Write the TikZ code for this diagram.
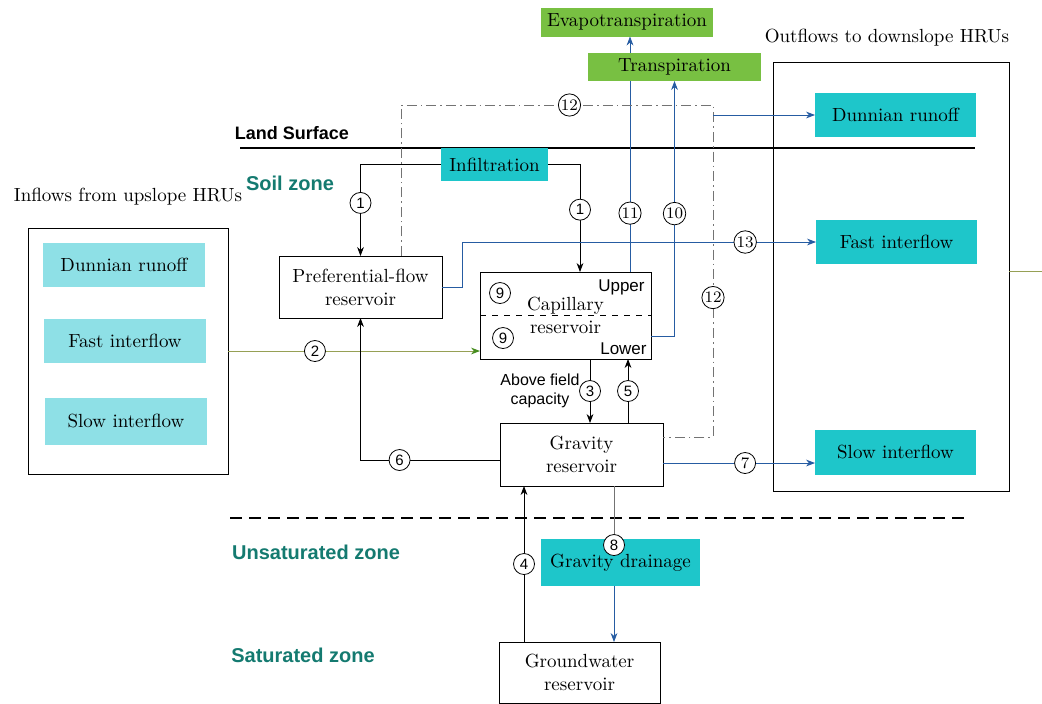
\documentclass[tikz,border=0pt]{standalone}
\usepackage{fontspec}
\setsansfont{Liberation Sans}
\usetikzlibrary{arrows.meta, calc, positioning}
\definecolor{mycyan1}{RGB}{30, 198, 202}
\definecolor{mylightcyan1}{RGB}{142, 224, 230}
\definecolor{mygreen1}{RGB}{120, 192, 66}
\definecolor{myteal1}{RGB}{20, 122, 112}
\definecolor{mydarkblue1}{RGB}{38, 92, 162}
\definecolor{myolive1}{RGB}{150, 160, 85}
\definecolor{mydarkgreen1}{RGB}{70, 140, 30}
\definecolor{mygrey1}{RGB}{115, 115, 115}

\begin{document}
\begin{tikzpicture}[x=0.5pt, y=-0.5pt,
  serif/.style={font=\fontsize{9.5}{11.5}\selectfont},
  reservoir/.style={serif, draw=black, fill=white, align=center, inner sep=0, outer sep=0},
  flowbox/.style={serif, fill=mycyan1, text centered, inner sep=0, outer sep=0},
  hrubox/.style={serif, fill=mylightcyan1, text centered, minimum width=81, minimum height=22, inner sep=0},
  etbox/.style={serif, fill=mygreen1, text centered, inner sep=0, outer sep=0},
  zone/.style={font=\sffamily\bfseries\fontsize{10}{12}\selectfont, text=myteal1},
  num/.style={circle, solid, draw=black, text=black, fill=white, inner sep=0.4pt, minimum size=10.5, font=\sffamily\fontsize{7.5}{8}\selectfont},
  numr/.style={num, font=\fontsize{8}{8}\selectfont},
  flow/.style={-{Stealth[length=4.5pt, width=3.4pt]}},
  blueflow/.style={flow, draw=mydarkblue1},
]
\useasboundingbox (0,0) rectangle (1042,703);

% --- Inflows from upslope HRUs ---
\node at (128,351) [draw=black, minimum width=100, minimum height=123, inner sep=0, outer sep=0] (inflows) {};
\node at (128,197) [serif] (inflowstitle) {Inflows from upslope HRUs};
\node at (124,265) [hrubox] (dunL) {Dunnian runoff};
\node at (125,341) [hrubox] (fastL) {Fast interflow};
\node at (126,421) [hrubox, minimum height=23.5] (slowL) {Slow interflow};

% --- Outflows to downslope HRUs ---
\node at (891,276.5) [draw=black, minimum width=118, minimum height=214.5, inner sep=0, outer sep=0] (outflows) {};
\node at (887,38) [serif] (outflowstitle) {Outflows to downslope HRUs};
\node at (895.5,115) [flowbox, minimum width=80.5, minimum height=22] (dunR) {Dunnian runoff};
\node at (896.5,242) [flowbox, minimum width=80.5, minimum height=22] (fastR) {Fast interflow};
\node at (895.5,452) [flowbox, minimum width=80.5, minimum height=22.5] (slowR) {Slow interflow};

% --- Zones ---
\coordinate (landL) at (240,148);
\coordinate (landR) at (975,148);
\draw[line width=1pt] (landL) -- (landR);
\node at (292,133) [font=\sffamily\bfseries\fontsize{9}{11}\selectfont] (land) {Land Surface};
\node at (290,183) [zone] (soil) {Soil zone};
\coordinate (unsatL) at (230,518);
\coordinate (unsatR) at (968,518);
\draw[line width=0.9pt, dash pattern=on 6pt off 3.5pt] (unsatL) -- (unsatR);
\node at (316,552) [zone] (unsat) {Unsaturated zone};
\node at (303,655) [zone] (sat) {Saturated zone};

% --- Reservoirs ---
\node at (627,22) [etbox, minimum width=86, minimum height=14.5] (evapo) {Evapotranspiration};
\node at (494.5,164.5) [flowbox, minimum width=53.5, minimum height=16.5] (infil) {Infiltration};
\node at (360.5,287) [reservoir, minimum width=81.5, minimum height=31] (pref) {Preferential-flow\\reservoir};
\node at (565.5,315.5) [reservoir, minimum width=85.5, minimum height=43.5] (cap) {Capillary\\reservoir};
\node at (581.5,454.5) [reservoir, minimum width=81.5, minimum height=31.5] (grav) {Gravity\\reservoir};
\node at (620.5,562.5) [flowbox, minimum width=79.5, minimum height=23.5] (drain) {Gravity drainage};
\node at (579.5,672.5) [reservoir, minimum width=80.5, minimum height=30.5] (gw) {Groundwater\\reservoir};

% capillary upper / lower
\draw[dashed] (cap.west) -- (cap.east);
\node at (cap.north east) [anchor=north east, inner xsep=3pt, inner ysep=3.5pt, font=\sffamily\fontsize{8.5}{10}\selectfont] (upper) {Upper};
\node at (cap.south east) [anchor=south east, inner xsep=2pt, inner ysep=2pt, font=\sffamily\fontsize{8.5}{10}\selectfont] (lower) {Lower};
\node at (500,293) [num] (upnine) {9};
\node at (503,338) [num] (lownine) {9};

% --- Arrows ---
\draw[flow] (infil.west) -| node[num, pos=0.71] {1} (pref.north);
\draw[flow] (infil.east) -| node[num, pos=0.71] {1} ([xshift=7.25pt]cap.north);
\draw[draw=myolive1, -{Stealth[length=4.5pt, width=3.4pt, color=mydarkgreen1]}] (inflows.east) -- node[num, pos=0.345] {2} (inflows.east -| cap.west);

\coordinate (etx) at ([xshift=32.25pt]cap.north);
\draw[blueflow] (etx) -- node[numr, pos=0.25] {11} (etx |- evapo.south);
\node at (674.5,67) [etbox, minimum width=86.5, minimum height=14] (transp) {Transpiration};
\draw[blueflow] ([yshift=-10.25pt]cap.east) -| node[numr, pos=0.74] {10} (transp.south);

\draw[blueflow] (pref.east) -- ++(20,0) |- node[numr, pos=0.9] {13} (fastR.west);

\coordinate (ddcorner) at (713,105);
\draw[draw=mygrey1, dash pattern=on 5pt off 2pt on 0.8pt off 2pt] ([xshift=20.25pt]pref.north) |- node[numr, pos=0.77] {12} (ddcorner) |- node[numr, pos=0.29] {12} ([yshift=8.75pt]grav.east);
\draw[blueflow] (ddcorner |- dunR.west) -- (dunR.west);

\coordinate (c3) at ([xshift=12.25pt]cap.south);
\coordinate (c5) at ([xshift=23.25pt]grav.north);
\draw[flow] (c3) -- node[num] {3} node[left=5pt, inner sep=0, align=center, font=\sffamily\fontsize{8}{9.5}\selectfont] (abovefc) {Above field\\capacity} (c3 |- grav.north);
\draw[flow] (c5) -- node[num] {5} (c5 |- cap.south);

\draw[flow] ([yshift=-2.75pt]grav.west) -| node[num, pos=0.36] {6} (pref.south);
\coordinate (c7) at ([yshift=-4.25pt]grav.east);
\draw[blueflow] (c7) -- node[numr, pos=0.54] {7} (c7 -| slowR.west);

\coordinate (c4) at ([xshift=-27.75pt]gw.north);
\draw[flow] (c4) -- node[num] {4} (c4 |- grav.south);
\coordinate (c8) at ([xshift=16.25pt]grav.south);
\draw[mygrey1] (c8) -- (c8 |- drain.north) node[num, yshift=-3pt] {8};
\draw[blueflow] (c8 |- drain.south) -- (c8 |- gw.north);

\coordinate (rightedge) at (1042,271);
\draw[myolive1] (rightedge -| outflows.east) -- (rightedge);
\end{tikzpicture}
\end{document}
